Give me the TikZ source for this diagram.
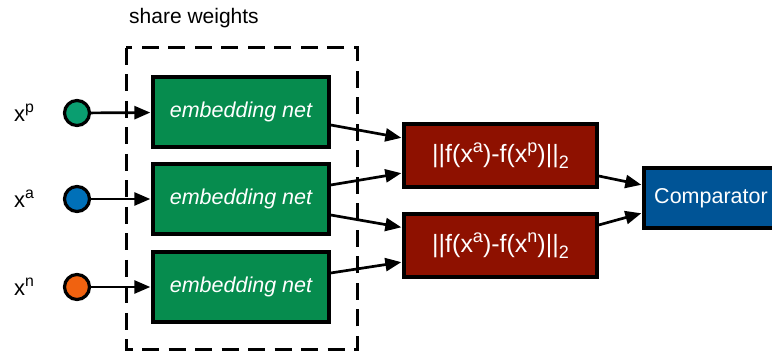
\documentclass[tikz,border=0pt]{standalone}
\usepackage{fontspec}
\setmainfont{Liberation Sans}
\usetikzlibrary{arrows.meta}
\definecolor{embgreen}{RGB}{6,140,78}
\definecolor{distred}{RGB}{142,17,0}
\definecolor{compblue}{RGB}{0,84,150}
\definecolor{inpteal}{RGB}{10,158,112}
\definecolor{inpblue}{RGB}{0,112,184}
\definecolor{inporange}{RGB}{240,98,16}
% raised and lowered indices scaled relative to the current font
\newcommand\hi[1]{\raisebox{0.42em}{\scalebox{0.72}{#1}}}
\newcommand\lo[1]{\raisebox{-0.22em}{\scalebox{0.72}{#1}}}
\tikzset{
  box/.style={draw=black, line width=3.4pt, text=white, inner sep=0pt},
  embbox/.style={box, fill=embgreen, minimum width=176pt, minimum height=70pt,
    font=\fontsize{21.5}{25}\selectfont\itshape},
  distbox/.style={box, fill=distred, minimum width=193pt, minimum height=63pt,
    font=\fontsize{25}{29}\selectfont},
  compbox/.style={box, fill=compblue, minimum width=134pt, minimum height=60pt,
    font=\fontsize{21.5}{25}\selectfont},
  inp/.style={circle, draw=black, line width=3.2pt, minimum size=25pt, inner sep=0pt},
  lbl/.style={font=\fontsize{22}{26}\selectfont, inner sep=0pt},
  arr/.style={line width=2.7pt, -{Triangle[length=16pt,width=13pt]}, shorten >=1pt},
}
\begin{document}
\begin{tikzpicture}[x=1pt,y=-1pt]
\useasboundingbox (0,0) rectangle (772,352);
% shared-weight group
\draw[line width=3pt, dash pattern=on 17pt off 9.5pt] (126,48) rectangle (357,350);
\node[lbl, anchor=west, font=\fontsize{21}{25}\selectfont] (share) at (129,18) {share weights};
% embedding networks
\node[embbox] (e1) at (241,112) {embedding net};
\node[embbox] (e2) at (241,199) {embedding net};
\node[embbox] (e3) at (241,287) {embedding net};
% inputs
\node[inp, fill=inpteal]   (cp) at (77,113) {};
\node[inp, fill=inpblue]   (ca) at (77,199) {};
\node[inp, fill=inporange] (cn) at (77,287) {};
\node[lbl] (lp) at (24,113) {x\hi{p}};
\node[lbl] (la) at (24,199) {x\hi{a}};
\node[lbl] (ln) at (24,287) {x\hi{n}};
% distances
\node[distbox] (d1) at (500.5,155.5) {\textbar\textbar f(x\hi{a})-f(x\hi{p})\textbar\textbar\lo{2}};
\node[distbox] (d2) at (500.5,245.5) {\textbar\textbar f(x\hi{a})-f(x\hi{n})\textbar\textbar\lo{2}};
% comparator
\node[compbox] (cmp) at (711,198) {Comparator};
% connectors
\draw[arr] (cp) -- (e1);
\draw[arr] (ca) -- (e2);
\draw[arr] (cn) -- (e3);
\draw[arr] ([yshift=-13pt]e1.east) -- ([yshift=17.5pt]d1.west);
\draw[arr] ([yshift=14pt]e2.east) -- ([yshift=-17.5pt]d1.west);
\draw[arr] ([yshift=-16pt]e2.east) -- ([yshift=18pt]d2.west);
\draw[arr] ([yshift=14pt]e3.east) -- ([yshift=-16.5pt]d2.west);
\draw[arr] ([yshift=-20.5pt]d1.east) -- ([yshift=13pt]cmp.west);
\draw[arr] ([yshift=20.5pt]d2.east) -- ([yshift=-15pt]cmp.west);
\end{tikzpicture}
\end{document}
